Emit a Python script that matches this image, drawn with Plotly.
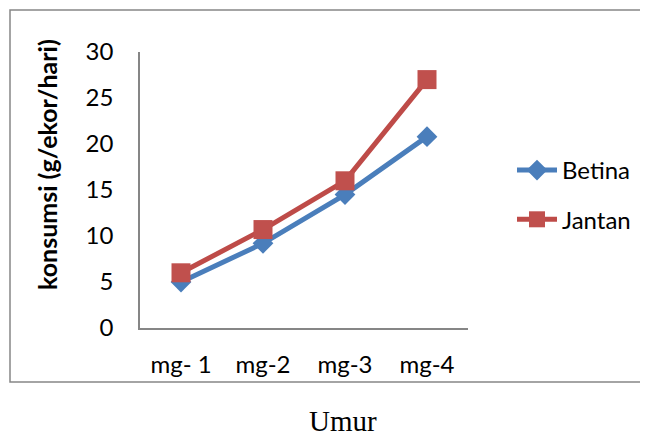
import plotly.graph_objects as go

categories = ["mg- 1", "mg-2", "mg-3", "mg-4"]
betina = [5.0, 9.2, 14.5, 20.8]
jantan = [6.0, 10.7, 16.0, 27.0]
series_names = ["Betina", "Jantan"]
y_title = "konsumsi (g/ekor/hari)"
x_title = "Umur"

OFF = 8  # page body margin in the browser
W, H = 648 - OFF, 439 - OFF
# plot area in reference pixels
L, R, T, B = 140, 468, 52, 328

def px_x(p):
    return (p - L) / (R - L)

def px_y(p):
    return (B - p) / (B - T)

fig = go.Figure()
fig.add_trace(go.Scatter(
    x=categories, y=betina, name=series_names[0], mode="lines+markers",
    line=dict(color="#4A7EBB", width=5),
    marker=dict(symbol="diamond", size=16, color="#4A7EBB"),
    legendgroup="a",
))
fig.add_trace(go.Scatter(
    x=categories, y=jantan, name=series_names[1], mode="lines+markers",
    line=dict(color="#BE4B48", width=5),
    marker=dict(symbol="square", size=19, color="#C0504D"),
    legendgroup="b",
))

axis_font = dict(family="Lato, Carlito, Calibri, sans-serif", size=24, color="#000000")

fig.update_layout(
    width=W, height=H,
    margin=dict(l=L - OFF, r=W - (R - OFF), t=T - OFF, b=H - (B - OFF), pad=0),
    paper_bgcolor="white", plot_bgcolor="white",
    font=axis_font,
    showlegend=True,
    legend=dict(
        x=px_x(512), y=px_y(148), xanchor="left", yanchor="top",
        font=dict(family="Lato, sans-serif", size=24, color="#000000"),
        tracegroupgap=15, traceorder="grouped",
        bgcolor="rgba(0,0,0,0)", itemwidth=40,
    ),
    xaxis=dict(
        type="category", range=[-0.5, 3.5], showgrid=False, zeroline=False,
        showline=True, linecolor="#868686", linewidth=1.5, ticks="",
        tickfont=axis_font, ticklabelstandoff=14, fixedrange=True,
    ),
    yaxis=dict(
        range=[0, 30], dtick=5, showgrid=False, zeroline=False,
        showline=True, linecolor="#868686", linewidth=1.5, ticks="",
        tickfont=axis_font, ticklabelstandoff=20, fixedrange=True,
    ),
    shapes=[dict(
        type="rect", xref="paper", yref="paper",
        x0=px_x(10), x1=px_x(660), y0=px_y(382), y1=px_y(10),
        line=dict(color="#868686", width=1.5), fillcolor="rgba(0,0,0,0)",
        layer="below",
    )],
    annotations=[
        dict(text=f"<b>{y_title}</b>", xref="paper", yref="paper",
             x=px_x(47), y=px_y(165), xanchor="center", yanchor="middle",
             textangle=-90, showarrow=False,
             font=dict(family="Lato, sans-serif", size=25, color="#000000")),
        dict(text=x_title, xref="paper", yref="paper",
             x=px_x(343), y=px_y(421), xanchor="center", yanchor="middle",
             showarrow=False,
             font=dict(family="Liberation Serif, DejaVu Serif, serif", size=29, color="#000000")),
    ],
)

fig.write_html("out.html", config={"displayModeBar": False})
